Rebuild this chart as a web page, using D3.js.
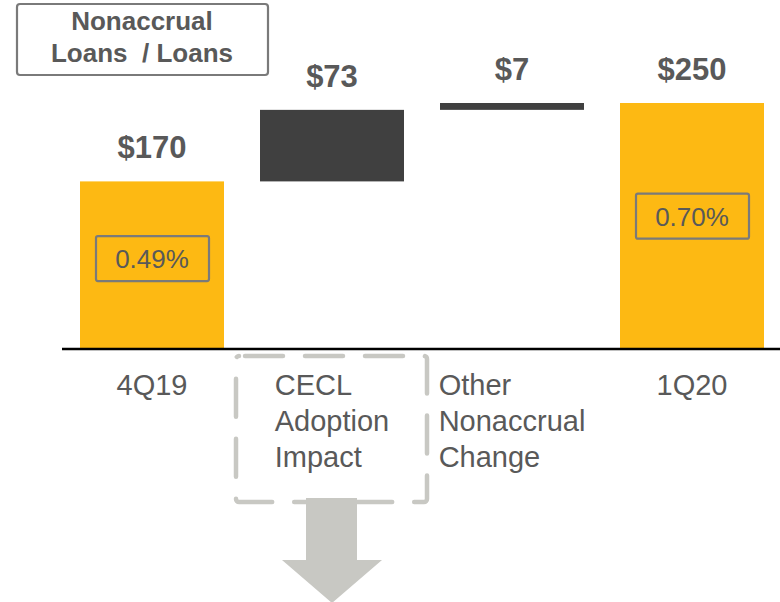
<!DOCTYPE html>
<html>
<head>
<meta charset="utf-8">
<script src="https://cdn.jsdelivr.net/npm/d3@7"></script>
<style>
  body { margin: 0; background: #fff; }
  text { font-family: "Liberation Sans", Arial, sans-serif; }
</style>
</head>
<body>
<div class="canvas"></div>
<script>
// Data
const categories = ['4Q19', 'CECL Adoption Impact', 'Other Nonaccrual Change', '1Q20'];
const catLines = [['4Q19'], ['CECL', 'Adoption', 'Impact'], ['Other', 'Nonaccrual', 'Change'], ['1Q20']];
const values = [170, 73, 7, 250];
const kinds = ['total', 'delta', 'delta', 'total'];
const valueLabels = ['$170', '$73', '$7', '$250'];
const ratioLabels = ['0.49%', null, null, '0.70%'];

const width = 780, height = 602;
const textGrey = '#595959';

const svg = d3.select('.canvas')
    .append('svg')
        .attr('width', width)
        .attr('height', height)

// Build waterfall steps
let running = 0;
const data = categories.map((c, i) => {
    let start, end;
    if (kinds[i] === 'total') { start = 0; end = values[i]; running = values[i]; }
    else { start = running; end = running + values[i]; running = end; }
    return {cat: c, lines: catLines[i], value: values[i], kind: kinds[i], start, end,
            label: valueLabels[i], ratio: ratioLabels[i]};
});

const x = d3.scaleBand()
    .domain(categories)
    .range([62, 782])
    .paddingInner(0.2)
    .paddingOuter(0.1)

const y = d3.scaleLinear()
    .domain([0, 250])
    .range([348, 103])

// Bars
svg.selectAll('rect.bar')
    .data(data)
    .enter()
    .append('rect')
        .attr('class', 'bar')
        .attr('x', d => x(d.cat))
        .attr('width', x.bandwidth())
        .attr('y', d => y(Math.max(d.start, d.end)))
        .attr('height', d => Math.abs(y(d.start) - y(d.end)))
        .attr('fill', d => d.kind === 'total' ? '#FDB913' : '#404040')

// Value labels
svg.selectAll('text.val')
    .data(data)
    .enter()
    .append('text')
        .attr('class', 'val')
        .attr('x', d => x(d.cat) + x.bandwidth() / 2)
        .attr('y', d => y(Math.max(d.start, d.end)) - 23)
        .attr('text-anchor', 'middle')
        .attr('font-size', 31)
        .attr('font-weight', 'bold')
        .attr('fill', textGrey)
        .text(d => d.label)

// Ratio boxes inside total bars
const ratios = svg.selectAll('g.ratio')
    .data(data.filter(d => d.ratio))
    .enter()
    .append('g')
        .attr('class', 'ratio')
        .attr('transform', d => `translate(${x(d.cat) + x.bandwidth() / 2}, ${y(d.end * 0.54)})`)

ratios.append('rect')
    .attr('x', -56).attr('y', -22)
    .attr('width', 113).attr('height', 45)
    .attr('rx', 2)
    .attr('fill', 'none')
    .attr('stroke', '#7a7a7a')
    .attr('stroke-width', 2.2)

ratios.append('text')
    .attr('text-anchor', 'middle')
    .attr('y', 10)
    .attr('font-size', 26)
    .attr('fill', textGrey)
    .text(d => d.ratio)

// Axis baseline
svg.append('line')
    .attr('x1', 62).attr('x2', width)
    .attr('y1', 349).attr('y2', 349)
    .attr('stroke', '#000')
    .attr('stroke-width', 2.5)

// Category labels: left-aligned lines, block centred on band
const catG = svg.selectAll('text.cat')
    .data(data)
    .enter()
    .append('text')
        .attr('class', 'cat')
        .attr('font-size', 29)
        .attr('fill', textGrey)

catG.each(function(d) {
    const t = d3.select(this);
    d.lines.forEach((ln, i) => {
        t.append('tspan').attr('x', 0).attr('y', 395 + i * 35.8).text(ln);
    });
    const w = this.getBBox().width;
    const cx = x(d.cat) + x.bandwidth() / 2;
    t.selectAll('tspan').attr('x', cx - w / 2);
});

// Dashed highlight around CECL label
const cx = x(categories[1]) + x.bandwidth() / 2;
svg.append('rect')
    .attr('x', cx - 96).attr('y', 356)
    .attr('width', 191).attr('height', 146)
    .attr('rx', 3)
    .attr('fill', 'none')
    .attr('stroke', '#C8C8C3')
    .attr('stroke-width', 4.5)
    .attr('stroke-linecap', 'round')
    .attr('stroke-dasharray', '38 22')
    .attr('stroke-dashoffset', -6)

// Down arrow
const arrow = d3.path();
arrow.moveTo(cx - 26, 498);
arrow.lineTo(cx + 25, 498);
arrow.lineTo(cx + 25, 560);
arrow.lineTo(cx + 50, 560);
arrow.lineTo(cx, 603);
arrow.lineTo(cx - 50, 560);
arrow.lineTo(cx - 26, 560);
arrow.closePath();
svg.append('path')
    .attr('d', arrow.toString())
    .attr('fill', '#C8C8C3')

// Legend box
svg.append('rect')
    .attr('x', 17).attr('y', 4)
    .attr('width', 251).attr('height', 71)
    .attr('rx', 3)
    .attr('fill', 'none')
    .attr('stroke', '#7a7a7a')
    .attr('stroke-width', 2.2)

svg.append('text')
    .attr('x', 142).attr('y', 30)
    .attr('text-anchor', 'middle')
    .attr('font-size', 26)
    .attr('font-weight', 'bold')
    .attr('fill', textGrey)
    .text('Nonaccrual')

svg.append('text')
    .attr('x', 142).attr('y', 62)
    .attr('text-anchor', 'middle')
    .attr('font-size', 26)
    .attr('font-weight', 'bold')
    .attr('fill', textGrey)
    .style('white-space', 'pre')
    .text('Loans  / Loans')
</script>
</body>
</html>
